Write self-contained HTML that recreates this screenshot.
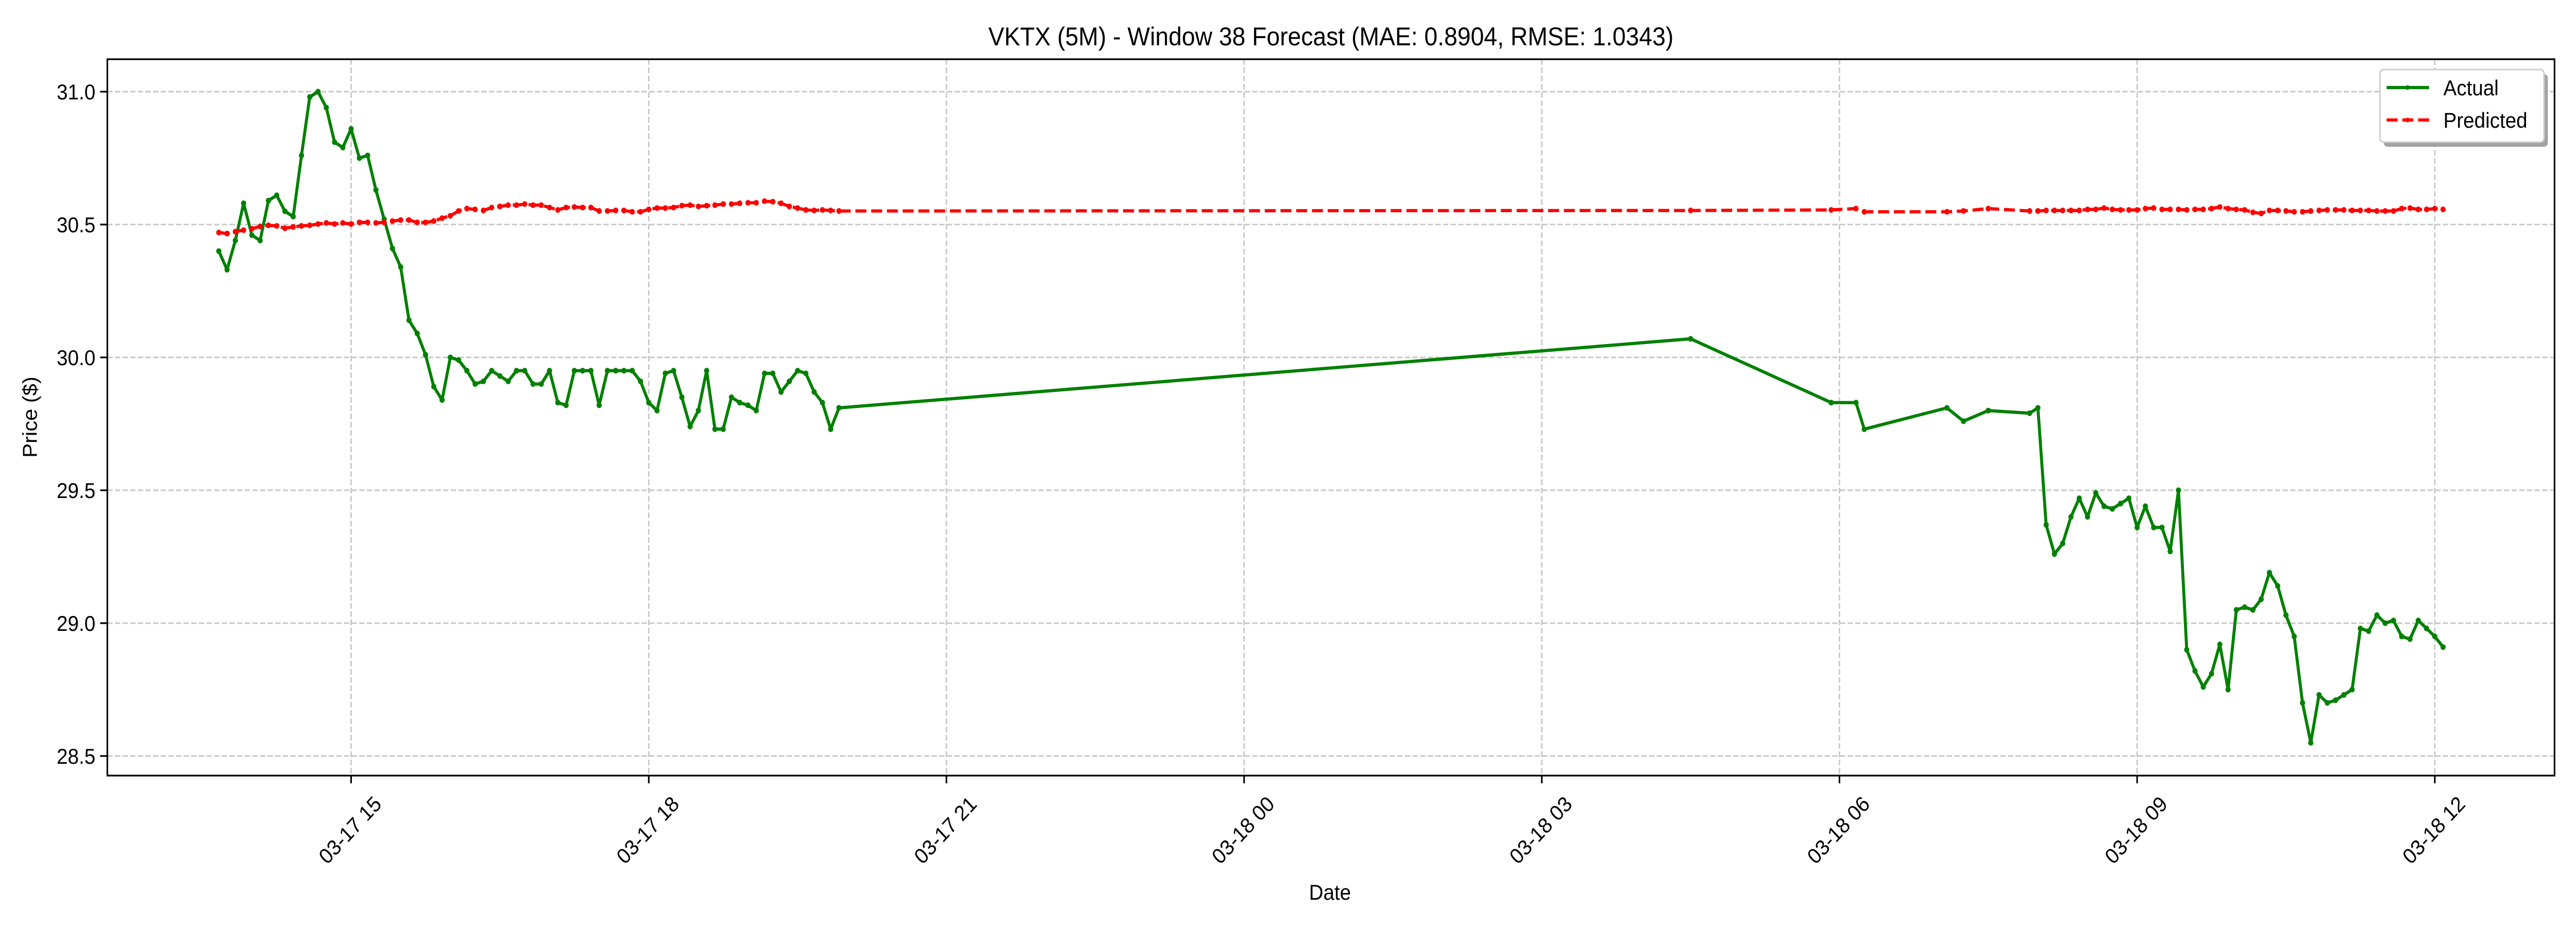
<!DOCTYPE html>
<html><head><meta charset="utf-8"><style>
html,body{margin:0;padding:0;background:#fff;overflow:hidden;width:100vw;height:100vh}
svg{display:block;width:100vw;height:100vh;font-family:"Liberation Sans","DejaVu Sans",sans-serif}
</style></head><body>
<svg id="chart" viewBox="0 0 5400 1800" preserveAspectRatio="none" xmlns="http://www.w3.org/2000/svg">
<rect width="5400" height="1800" fill="#fff"/>
<g id="grid"></g>
<g id="series"></g>
<rect x="225" y="115" width="5130" height="1391" fill="none" stroke="#000" stroke-width="3.3"/>
<g id="axes"></g>
<text x="2790" y="88" font-size="50" text-anchor="middle">VKTX (5M) - Window 38 Forecast (MAE: 0.8904, RMSE: 1.0343)</text>
<text x="2788" y="1747" font-size="41.7" text-anchor="middle">Date</text>
<text transform="translate(77,810) rotate(-90)" font-size="41.7" text-anchor="middle">Price ($)</text>
<g>
<rect x="4997" y="144" width="344" height="141" rx="8" fill="#999" opacity="0.9"/>
<rect x="4989" y="135" width="344" height="141" rx="8" fill="#fff" stroke="#ccc" stroke-width="3"/>
<line x1="5003" y1="170" x2="5092" y2="170" stroke="#008000" stroke-width="6.25"/>
<circle cx="5047" cy="170" r="4.5" fill="#008000"/>
<text x="5122" y="185" font-size="41.7">Actual</text>
<line x1="5003" y1="233" x2="5092" y2="233" stroke="#ff0000" stroke-width="6.25" stroke-dasharray="23,10"/>
<circle cx="5047" cy="233" r="4.5" fill="#ff0000"/>
<text x="5122" y="248" font-size="41.7">Predicted</text>
</g>
</svg>
<script>
const times = ["17 13:40","17 13:45","17 13:50","17 13:55","17 14:00","17 14:05","17 14:10","17 14:15","17 14:20","17 14:25","17 14:30","17 14:35","17 14:40","17 14:45","17 14:50","17 14:55",
"17 15:00","17 15:05","17 15:10","17 15:15","17 15:20","17 15:25","17 15:30","17 15:35","17 15:40","17 15:45","17 15:50","17 15:55",
"17 16:00","17 16:05","17 16:10","17 16:15","17 16:20","17 16:25","17 16:30","17 16:35","17 16:40","17 16:45","17 16:50","17 16:55",
"17 17:00","17 17:05","17 17:10","17 17:15","17 17:20","17 17:25","17 17:30","17 17:35","17 17:40","17 17:45","17 17:50","17 17:55",
"17 18:00","17 18:05","17 18:10","17 18:15","17 18:20","17 18:25","17 18:30","17 18:35","17 18:40","17 18:45","17 18:50","17 18:55",
"17 19:00","17 19:05","17 19:10","17 19:15","17 19:20","17 19:25","17 19:30","17 19:35","17 19:40","17 19:45","17 19:50","17 19:55",
"18 04:30","18 05:55","18 06:10","18 06:15","18 07:05","18 07:15","18 07:30","18 07:55","18 08:00",
"18 08:05","18 08:10","18 08:15","18 08:20","18 08:25","18 08:30","18 08:35","18 08:40","18 08:45","18 08:50","18 08:55",
"18 09:00","18 09:05","18 09:10","18 09:15","18 09:20","18 09:25","18 09:30","18 09:35","18 09:40","18 09:45","18 09:50","18 09:55",
"18 10:00","18 10:05","18 10:10","18 10:15","18 10:20","18 10:25","18 10:30","18 10:35","18 10:40","18 10:45","18 10:50","18 10:55",
"18 11:00","18 11:05","18 11:10","18 11:15","18 11:20","18 11:25","18 11:30","18 11:35","18 11:40","18 11:45","18 11:50","18 11:55",
"18 12:00","18 12:05"];
const actual = [30.40,30.33,30.44,30.58,30.46,30.44,30.59,30.61,30.55,30.53,30.76,30.98,31.00,30.94,30.81,30.79,
30.86,30.75,30.76,30.63,30.52,30.41,30.34,30.14,30.09,30.01,29.89,29.84,
30.00,29.99,29.95,29.90,29.91,29.95,29.93,29.91,29.95,29.95,29.90,29.90,
29.95,29.83,29.82,29.95,29.95,29.95,29.82,29.95,29.95,29.95,29.95,29.91,
29.83,29.80,29.94,29.95,29.85,29.74,29.80,29.95,29.73,29.73,29.85,29.83,
29.82,29.80,29.94,29.94,29.87,29.91,29.95,29.94,29.87,29.83,29.73,29.81,
30.07,29.83,29.83,29.73,29.81,29.76,29.80,29.79,29.81,
29.37,29.26,29.30,29.40,29.47,29.40,29.49,29.44,29.43,29.45,29.47,
29.36,29.44,29.36,29.36,29.27,29.50,28.90,28.82,28.76,28.81,28.92,28.75,
29.05,29.06,29.05,29.09,29.19,29.14,29.03,28.95,28.70,28.55,28.73,28.70,
28.71,28.73,28.75,28.98,28.97,29.03,29.00,29.01,28.95,28.94,29.01,28.98,
28.95,28.91];
const predicted = [30.470,30.466,30.473,30.479,30.484,30.493,30.497,30.495,30.486,30.491,30.495,30.497,30.502,30.506,30.502,30.506,
30.502,30.508,30.508,30.506,30.508,30.513,30.517,30.517,30.508,30.508,30.513,30.524,
30.533,30.551,30.560,30.557,30.553,30.564,30.568,30.573,30.573,30.577,30.573,30.573,
30.564,30.555,30.564,30.566,30.564,30.564,30.551,30.551,30.553,30.553,30.548,30.548,
30.557,30.562,30.562,30.564,30.571,30.573,30.568,30.571,30.573,30.577,30.577,30.580,
30.582,30.582,30.588,30.586,30.580,30.568,30.562,30.555,30.553,30.555,30.553,30.551,
30.553,30.555,30.560,30.548,30.548,30.551,30.560,30.551,30.551,
30.553,30.553,30.553,30.553,30.553,30.557,30.557,30.562,30.557,30.555,30.555,
30.555,30.560,30.562,30.557,30.557,30.557,30.555,30.557,30.557,30.560,30.566,30.560,
30.557,30.555,30.546,30.542,30.553,30.553,30.551,30.548,30.548,30.551,30.553,30.555,
30.555,30.555,30.553,30.553,30.553,30.551,30.551,30.551,30.560,30.562,30.557,30.557,
30.560,30.557];
const yTicks = [28.5,29.0,29.5,30.0,30.5,31.0];
const xTickLabels = ["03-17 15","03-17 18","03-17 21","03-18 00","03-18 03","03-18 06","03-18 09","03-18 12"];
const xTickTimes = ["17 15:00","17 18:00","17 21:00","18 00:00","18 03:00","18 06:00","18 09:00","18 12:00"];

const NS="http://www.w3.org/2000/svg";
function toMin(s){const d=+s.slice(0,2),h=+s.slice(3,5),m=+s.slice(6,8);return (d-17)*1440+h*60+m;}
function xs(s){return 736+(toMin(s)-900)*208/60;}
function ys(v){return 178+(31-v)*516;}
function mk(tag,attrs,parent){const e=document.createElementNS(NS,tag);for(const k in attrs)e.setAttribute(k,attrs[k]);parent.appendChild(e);return e;}
const grid=document.getElementById('grid'),axes=document.getElementById('axes'),series=document.getElementById('series');
yTicks.forEach(v=>{
  const y=ys(v);
  const g=mk('line',{x1:225,x2:5355,y1:y,y2:y,stroke:'#b0b0b0','stroke-width':3,'stroke-dasharray':'11,5',opacity:0.7},grid);
  
  
  const t=mk('line',{x1:210,x2:225,y1:y,y2:y,stroke:'#000','stroke-width':3.3},axes);
  
  
  const l=mk('text',{x:200,y:y+15,'font-size':41.7,'text-anchor':'end'},axes);
  l.textContent=v.toFixed(1);
  
  
});
xTickTimes.forEach((s,i)=>{
  const x=xs(s);
  const g=mk('line',{x1:x,x2:x,y1:115,y2:1506,stroke:'#b0b0b0','stroke-width':3,'stroke-dasharray':'11,5',opacity:0.7},grid);
  
  
  const t=mk('line',{x1:x,x2:x,y1:1506,y2:1521,stroke:'#000','stroke-width':3.3},axes);
  
  
  const l=mk('text',{x:0,y:0,'font-size':41.7,'text-anchor':'middle','dominant-baseline':'central',transform:`translate(${x-2},1612) rotate(-45)`},axes);
  l.textContent=xTickLabels[i];
  
  
});
function drawSeries(vals,color,dash,name){
  const pts=times.map((s,i)=>xs(s).toFixed(1)+','+ys(vals[i]).toFixed(1)).join(' ');
  const pl=mk('polyline',{points:pts,fill:'none',stroke:color,'stroke-width':6.25,'stroke-linejoin':'round'},series);
  if(dash)pl.setAttribute('stroke-dasharray',dash);
  
  
  times.forEach((s,i)=>{
    const c=mk('circle',{cx:xs(s),cy:ys(vals[i]),r:5.5,fill:color},series);
    
    
  });
}
drawSeries(actual,'#008000',null,'actual');
drawSeries(predicted,'#ff0000','23,10','predicted');
</script>
</body></html>
